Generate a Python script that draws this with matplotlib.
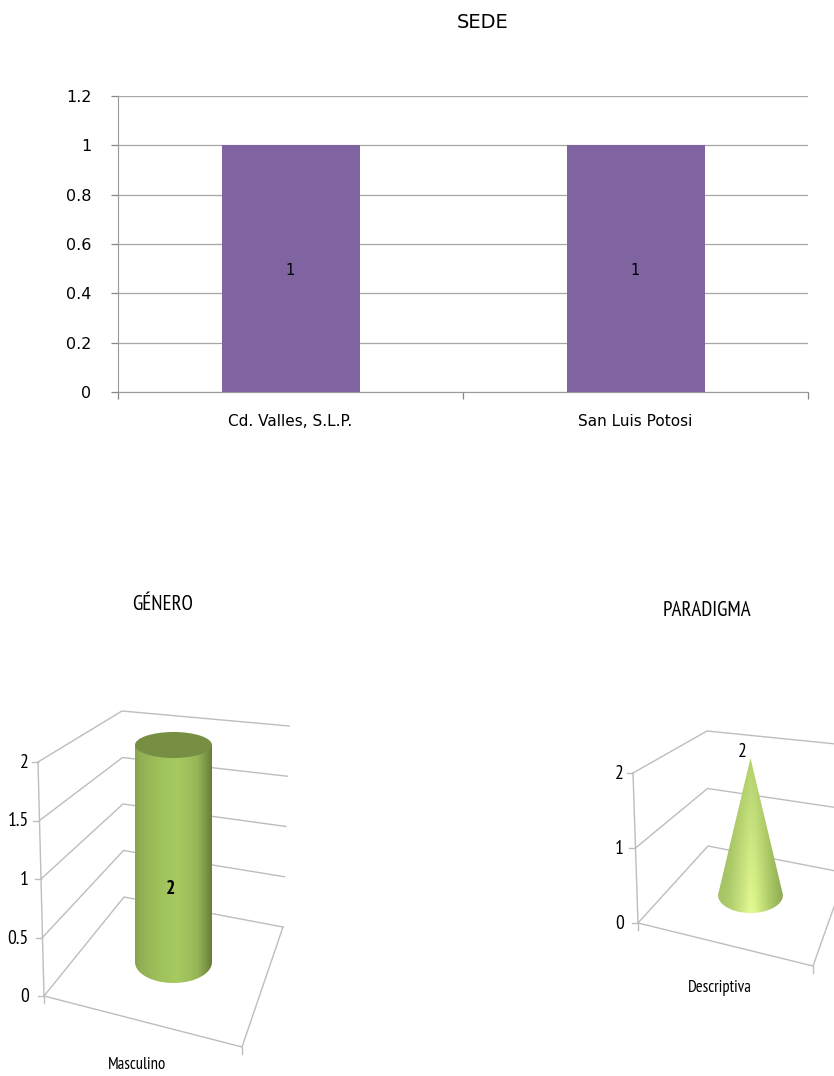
import numpy as np
import matplotlib
matplotlib.use('Agg')
import matplotlib.pyplot as plt
from matplotlib.patches import Ellipse, PathPatch
from matplotlib.path import Path

W, H = 834, 1076

sede_names = ['Cd. Valles, S.L.P.', 'San Luis Potosi']
sede_values = [1, 1]
sede_ticks = [0, 0.2, 0.4, 0.6, 0.8, 1, 1.2]
sede_ticklabels = ['0', '0.2', '0.4', '0.6', '0.8', '1', '1.2']

genero_names = ['Masculino']
genero_values = [2]
genero_ticks = [0, 0.5, 1, 1.5, 2]
genero_ticklabels = ['0', '0.5', '1', '1.5', '2']

paradigma_names = ['Descriptiva']
paradigma_values = [2]
paradigma_ticks = [0, 1, 2]
paradigma_ticklabels = ['0', '1', '2']

WIDE = ['DejaVu Sans']
NARROW = ['PT Sans Narrow', 'Liberation Sans']
GRID = '#bdbdbd'


def draw_sede(fig):
    '''
    Flat column chart on a normal axes
    '''
    ax = fig.add_axes([118 / W, 1 - 392 / H, 690 / W, 296 / H])
    x = np.arange(len(sede_names))
    ax.bar(x, sede_values, width=0.4, color='#8064a2', zorder=3)
    for xi, v in zip(x, sede_values):
        ax.annotate(str(v), (xi, v / 2), xytext=(0, -2), textcoords='offset pixels',
                    ha='center', va='center', fontsize=10.5, family=WIDE,
                    color='black', zorder=4)
    ax.set_xlim(-0.5, 1.5)
    ax.set_ylim(0, 1.2)
    ax.set_yticks(sede_ticks)
    ax.set_yticklabels(sede_ticklabels, fontsize=11.5, family=WIDE)
    ax.set_xticks([-0.5, 0.5, 1.5])
    ax.set_xticklabels([])
    for xi, name in zip(x, sede_names):
        ax.annotate(name, (xi, 0), xycoords=('data', 'axes fraction'),
                    xytext=(0, -22), textcoords='offset pixels',
                    ha='center', va='top', fontsize=11, family=WIDE)
    ax.yaxis.grid(True, color='#a6a6a6', linewidth=0.9, zorder=1)
    ax.tick_params(axis='both', color='#868686', length=5, width=0.9, pad=14)
    for name in ('top', 'right'):
        ax.spines[name].set_visible(False)
    for name in ('left', 'bottom'):
        ax.spines[name].set_color('#999999')
    fig.text(483 / W, 1 - 23 / H, 'SEDE', ha='center', va='center', fontsize=14,
             family=WIDE)


def lerp(a, b, t):
    return (a[0] + (b[0] - a[0]) * t, a[1] + (b[1] - a[1]) * t)


def draw_box(ax, ticks, labels, front, back, right, floor_corner, label_x):
    '''
    Walls and floor of a 3D chart. front, back and right are
    (bottom, top) pixel points of the three wall edges.
    '''
    top = ticks[-1]
    for tick, lab in zip(ticks, labels):
        t = tick / top
        p0, p1, p2 = lerp(*front, t), lerp(*back, t), lerp(*right, t)
        ax.plot([p0[0], p1[0], p2[0]], [p0[1], p1[1], p2[1]], color=GRID,
                linewidth=1, zorder=1, solid_joinstyle='miter')
        ax.plot([p0[0] - 6, p0[0]], [p0[1], p0[1]], color=GRID, linewidth=1, zorder=1)
        ax.text(label_x, p0[1] + 1, lab, ha='right', va='center', fontsize=14,
                family=NARROW)
    ax.plot([front[0][0], front[1][0]], [front[0][1], front[1][1]], color=GRID,
            linewidth=1, zorder=1)
    fx, fy = floor_corner
    ax.plot([front[0][0], fx, right[0][0]], [front[0][1], fy, right[0][1]],
            color=GRID, linewidth=1, zorder=1)
    ax.plot([front[0][0], front[0][0]], [front[0][1], front[0][1] + 7], color=GRID,
            linewidth=1, zorder=1)
    ax.plot([fx, fx], [fy, fy + 7], color=GRID, linewidth=1, zorder=1)


def ramp(stops, colors):
    rgb = np.array([matplotlib.colors.to_rgb(c) for c in colors])
    xs = np.linspace(0, 1, 256)
    return np.stack([np.interp(xs, stops, rgb[:, i]) for i in range(3)], axis=1)


def shade(ax, patch, x0, x1, y0, y1, stops, colors, colors_top=None):
    '''
    Fill a patch with a horizontal colour ramp, optionally fading
    vertically from colors_top down to colors
    '''
    low = ramp(stops, colors)
    high = ramp(stops, colors_top) if colors_top else low
    fade = np.linspace(0, 1, 128)[:, np.newaxis, np.newaxis]
    img = high[np.newaxis, :, :] * (1 - fade) + low[np.newaxis, :, :] * fade
    im = ax.imshow(img, extent=(x0, x1, y1, y0), aspect='auto',
                   interpolation='bilinear', zorder=3)
    patch.set_facecolor('none')
    patch.set_edgecolor('none')
    ax.add_patch(patch)
    im.set_clip_path(patch)


def draw_genero(ax):
    draw_box(ax, genero_ticks, genero_ticklabels,
             ((44, 996), (38, 762)), ((124, 897), (122, 711)),
             ((283, 927), (289, 726)), (242, 1047), 29)

    # cylinder height follows the value
    cx, rx = 173.5, 38.5
    y_base, px_per_unit = 962, 108.5
    y_top = y_base - genero_values[0] * px_per_unit
    verts = [(cx - rx, y_top), (cx - rx, y_base)]
    codes = [Path.MOVETO, Path.LINETO]
    th = np.linspace(np.pi, 0, 60)
    verts += list(zip(cx + rx * np.cos(th), y_base + 21 * np.sin(th)))
    codes += [Path.LINETO] * 60
    verts += [(cx + rx, y_top), (cx - rx, y_top)]
    codes += [Path.LINETO, Path.LINETO]
    shade(ax, PathPatch(Path(verts, codes)), cx - rx, cx + rx, y_top, y_base + 21,
          [0, 0.08, 0.3, 0.55, 0.8, 0.93, 1],
          ['#87a34d', '#93b054', '#9fc05b', '#a7ca60', '#98b858', '#7a9546', '#667d3a'])
    ax.add_patch(Ellipse((cx, y_top), 2 * rx, 26, facecolor='#768f42', edgecolor='none',
                         zorder=4))
    ax.text(171, 889, str(genero_values[0]), ha='center', va='center', fontsize=14,
            fontweight='bold', family=NARROW, zorder=5)
    ax.text(137, 1065, genero_names[0], ha='center', va='center', fontsize=12,
            family=NARROW)
    ax.text(163, 604, 'GÉNERO', ha='center', va='center', fontsize=15, family=NARROW)


def draw_paradigma(ax):
    draw_box(ax, paradigma_ticks, paradigma_ticklabels,
             ((638, 923), (633, 773)), ((708, 846), (707, 731)),
             ((846, 873), (846, 745)), (813, 966), 624)

    # cone height follows the value
    cx, rx = 750.5, 32.5
    y_base, px_per_unit = 895, 68.5
    y_apex = y_base - paradigma_values[0] * px_per_unit
    th = np.linspace(np.pi, 0, 60)
    verts = [(cx, y_apex)] + list(zip(cx + rx * np.cos(th), y_base + 18 * np.sin(th)))
    verts.append((cx, y_apex))
    codes = [Path.MOVETO] + [Path.LINETO] * 60 + [Path.CLOSEPOLY]
    shade(ax, PathPatch(Path(verts, codes)), cx - rx, cx + rx, y_apex, y_base + 18,
          [0, 0.2, 0.5, 0.58, 0.8, 1],
          ['#a6c466', '#b4d070', '#e4fa94', '#dcf58c', '#aecb68', '#8fab54'],
          ['#8fae50', '#9dbc5c', '#b4d26e', '#b0ce6c', '#9dbb5c', '#85a04c'])
    ax.text(742, 752, str(paradigma_values[0]), ha='center', va='center', fontsize=14,
            family=NARROW, zorder=5)
    ax.text(720, 988, paradigma_names[0], ha='center', va='center', fontsize=12,
            family=NARROW)
    ax.text(707, 611, 'PARADIGMA', ha='center', va='center', fontsize=15, family=NARROW)


if __name__ == '__main__':
    fig = plt.figure(figsize=(W / 100, H / 100), dpi=100, facecolor='white')
    draw_sede(fig)
    overlay = fig.add_axes([0, 0, 1, 1])
    overlay.set_axis_off()
    overlay.patch.set_alpha(0)
    draw_genero(overlay)
    draw_paradigma(overlay)
    overlay.set_xlim(0, W)
    overlay.set_ylim(H, 0)
    fig.savefig('out.png', dpi=100)
